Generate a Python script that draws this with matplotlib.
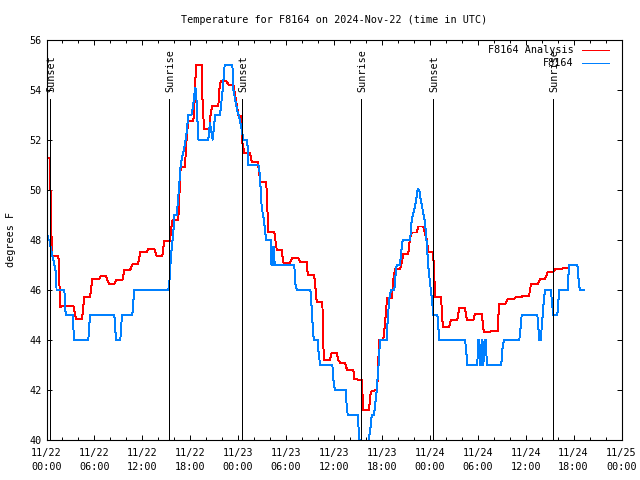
import matplotlib
matplotlib.use("Agg")
import matplotlib.pyplot as plt
import numpy as np

plt.rcParams['font.family'] = ['DejaVu Sans Mono']
FS = 7.3
LW = 0.7

# hours since 2024-11-22 00:00 UTC
analysis_h = [0.03, 0.40, 0.48, 0.60, 0.73, 1.48, 1.57, 1.69, 3.36, 3.69, 4.45, 4.73, 5.45, 5.74,
              6.61, 6.79, 7.45, 7.79, 8.49, 8.70, 9.49, 9.74, 10.46, 10.79, 11.46, 11.75, 12.58,
              12.71, 13.50, 13.80, 14.50, 14.75, 15.47, 15.59, 15.80, 16.50, 16.63, 16.72, 16.80,
              17.34, 17.47, 17.63, 17.76, 18.38, 18.51, 18.72, 19.43, 19.51, 19.72, 20.39, 20.56,
              20.76, 21.51, 21.64, 21.81, 22.56, 22.76, 23.39, 23.60, 23.82, 24.02, 24.32, 24.44,
              24.52, 24.77, 25.48, 25.61, 25.70, 26.45, 26.61, 26.77, 27.49, 27.61, 27.70, 27.77,
              28.53, 28.65, 28.83, 29.45, 29.65, 30.49, 30.78, 31.53, 31.74, 32.58, 32.71, 33.50,
              33.62, 33.83, 34.54, 34.66, 34.79, 35.50, 35.71, 36.34, 36.54, 36.75, 37.38, 37.63,
              38.42, 38.54, 39.47, 39.54, 39.67, 40.38, 40.60, 41.35, 41.47, 41.64, 42.17, 42.39,
              42.64, 43.23, 43.43, 43.64, 44.27, 44.55, 44.68, 45.30, 45.52, 45.73, 46.36, 46.56,
              47.18, 47.61, 47.81, 48.36, 48.52, 48.65, 49.40, 49.56, 49.69, 50.40, 50.65, 51.44,
              51.69, 52.40, 52.65, 53.44, 53.66, 54.50, 54.75, 55.54, 55.66, 56.50, 56.66, 57.41,
              57.75, 58.58, 58.75, 59.51, 59.63, 60.42, 60.67, 61.51, 61.80, 62.42, 62.76, 63.46,
              63.67, 64.51, 64.71, 65.43]
analysis_t = [51.27, 51.27, 50.27, 48.33, 47.36, 47.36, 46.83, 45.33, 45.36, 44.83, 44.83, 45.73,
              45.73, 46.43, 46.43, 46.55, 46.55, 46.25, 46.25, 46.39, 46.39, 46.79, 46.79, 47.04,
              47.04, 47.50, 47.50, 47.63, 47.63, 47.36, 47.36, 47.96, 47.96, 48.40, 48.80, 48.80,
              49.73, 50.40, 50.90, 50.90, 51.73, 52.40, 52.73, 52.73, 53.33, 55.00, 55.00, 53.73,
              52.43, 52.43, 53.07, 53.33, 53.33, 54.00, 54.33, 54.33, 54.20, 54.20, 53.80, 53.40,
              52.96, 52.96, 52.53, 51.87, 51.47, 51.47, 51.27, 51.10, 51.10, 50.73, 50.31, 50.31,
              49.80, 48.80, 48.31, 48.31, 48.00, 47.60, 47.60, 47.09, 47.09, 47.27, 47.27, 47.13,
              47.13, 46.60, 46.60, 46.27, 45.53, 45.53, 43.73, 43.20, 43.20, 43.47, 43.47, 43.20,
              43.09, 43.09, 42.80, 42.80, 42.43, 42.40, 42.00, 41.20, 41.20, 41.93, 42.00, 42.43,
              44.00, 44.00, 44.67, 45.67, 45.67, 46.40, 46.83, 46.83, 47.20, 47.44, 47.44, 48.07,
              48.29, 48.29, 48.53, 48.53, 48.00, 47.53, 47.53, 46.93, 45.73, 45.73, 44.80, 44.51,
              44.51, 44.80, 44.80, 45.27, 45.27, 44.80, 44.80, 45.04, 45.04, 44.31, 44.31, 44.36,
              44.36, 45.43, 45.43, 45.63, 45.63, 45.71, 45.71, 45.76, 45.76, 46.24, 46.24, 46.43,
              46.43, 46.71, 46.71, 46.83, 46.83, 46.87, 46.87]

station_h = [0.03, 0.10, 0.16, 0.38, 0.48, 0.73, 0.98, 1.23, 1.25, 2.23, 2.40, 3.28, 3.44, 5.23,
             5.45, 8.49, 8.70, 9.24, 9.45, 10.74, 10.99, 15.25, 15.38, 15.59, 15.88, 16.00, 16.30,
             16.38, 16.59, 16.80, 17.05, 17.34, 17.56, 17.76, 18.18, 18.38, 18.60, 18.72, 19.01,
             20.26, 20.47, 20.81, 21.01, 21.14, 21.73, 22.06, 22.31, 23.27, 23.39, 23.85, 24.10,
             24.44, 24.64, 25.07, 25.19, 25.27, 26.52, 26.65, 26.77, 26.95, 27.15, 27.36, 27.49,
             28.11, 28.16, 28.28, 28.40, 28.50, 28.56, 31.03, 31.12, 31.33, 33.03, 33.12, 33.28,
             33.46, 33.96, 34.04, 34.25, 35.79, 35.96, 36.13, 37.47, 37.59, 37.72, 38.97, 39.13,
             39.38, 39.88, 40.38, 40.59, 40.72, 41.01, 41.13, 41.35, 41.58, 41.76, 42.60, 42.72,
             42.93, 43.14, 43.55, 43.68, 43.85, 44.27, 44.39, 44.60, 45.52, 45.60, 45.73, 45.93,
             46.14, 46.36, 46.48, 46.68, 46.77, 47.18, 47.40, 47.61, 47.81, 48.02, 48.23, 48.36,
             48.43, 48.94, 49.06, 49.19, 52.40, 52.53, 52.69, 53.94, 54.06, 54.20, 54.30, 54.45,
             54.55, 54.70, 54.85, 55.00, 55.15, 56.94, 57.10, 57.28, 59.20, 59.38, 59.50, 61.46,
             61.58, 61.71, 61.88, 62.01, 62.21, 62.42, 63.17, 63.29, 63.46, 63.96, 64.08, 64.21,
             65.26, 65.43, 66.47, 66.60, 66.77, 67.27]
station_t = [48.76, 48.30, 48.00, 48.00, 47.76, 47.36, 47.00, 46.60, 46.00, 46.00, 45.00, 45.00,
             44.00, 44.00, 45.00, 45.00, 44.00, 44.00, 45.00, 45.00, 46.00, 46.00, 46.30, 47.40,
             48.30, 49.00, 49.00, 49.27, 50.07, 51.00, 51.40, 51.80, 52.33, 53.00, 53.00, 53.40,
             54.05, 54.00, 52.00, 52.00, 52.67, 52.00, 52.67, 53.00, 53.00, 54.00, 55.00, 55.00,
             54.00, 53.20, 52.93, 52.40, 52.00, 52.00, 51.70, 51.00, 51.00, 50.80, 50.27, 49.27,
             48.93, 48.40, 48.00, 48.00, 47.00, 47.70, 47.00, 47.70, 47.00, 47.00, 46.27, 46.00,
             46.00, 45.73, 44.80, 44.00, 44.00, 43.60, 43.00, 43.00, 42.27, 42.00, 42.00, 41.33,
             41.00, 41.00, 40.20, 39.50, 39.30, 40.07, 40.53, 41.00, 41.00, 41.33, 42.00, 43.00,
             44.00, 44.00, 44.80, 45.67, 46.00, 46.00, 46.53, 47.00, 47.00, 47.47, 48.00, 48.00,
             48.27, 48.80, 49.07, 49.33, 49.73, 50.03, 50.00, 49.73, 49.07, 48.67, 47.87, 46.93,
             46.27, 45.73, 45.27, 45.00, 45.00, 44.53, 44.00, 44.00, 43.67, 43.00, 43.00, 44.00,
             44.00, 43.00, 43.00, 44.00, 43.00, 44.00, 44.00, 43.00, 43.00, 43.67, 44.00, 44.00,
             44.53, 45.00, 45.00, 44.50, 44.00, 44.00, 44.50, 45.33, 46.00, 46.00, 45.47, 45.00,
             45.00, 45.50, 46.00, 46.00, 47.00, 47.00, 46.50, 46.00, 46.00]

sun_h = [0.47, 15.37, 24.52, 39.42, 48.44, 63.46]
sun_name = ['Sunset', 'Sunrise', 'Sunset', 'Sunrise', 'Sunset', 'Sunrise']

tick_h = list(range(0, 73, 6))
tick_lab = ['11/22\n00:00', '11/22\n06:00', '11/22\n12:00', '11/22\n18:00',
            '11/23\n00:00', '11/23\n06:00', '11/23\n12:00', '11/23\n18:00',
            '11/24\n00:00', '11/24\n06:00', '11/24\n12:00', '11/24\n18:00',
            '11/25\n00:00']

fig = plt.figure(figsize=(6.4, 4.8), dpi=100)
ax = fig.add_axes([0.0727, 0.0833, 0.8984, 0.8344])

ax.plot(analysis_h, analysis_t, color='#ff0000', lw=LW, antialiased=False)
ax.plot(station_h, station_t, color='#0080ff', lw=LW, antialiased=False)

#sunrise / sunset markers
for h, name in zip(sun_h, sun_name):
    ax.plot([h, h], [40, 53.64], color='black', lw=LW, antialiased=False)
    ax.text(h + 0.12, 53.92, name, rotation=90, ha='center', va='bottom', fontsize=FS)

ax.set_xlim(0, 72)
ax.set_ylim(40, 56)
ax.set_xticks(tick_h)
ax.set_xticklabels(tick_lab, fontsize=FS, linespacing=1.5)
ax.set_xticks(np.arange(0, 73, 2), minor=True)
ax.set_yticks(np.arange(40, 57, 2))
ax.set_yticklabels([str(v) for v in range(40, 57, 2)], fontsize=FS)
ax.tick_params(axis='x', pad=6)
ax.tick_params(direction='in', length=3.8, width=0.7, top=True, right=True)
ax.tick_params(which='minor', direction='in', length=2, width=0.7, top=True)
for s in ax.spines.values():
    s.set_linewidth(0.8)

ax.set_ylabel('degrees F', fontsize=FS, labelpad=10)
ax.set_title('Temperature for F8164 on 2024-Nov-22 (time in UTC)', fontsize=FS, pad=12)

#legend drawn by hand so the text is right aligned
ax.text(0.917, 0.975, 'F8164 Analysis', transform=ax.transAxes, ha='right', va='center', fontsize=FS)
ax.text(0.917, 0.9425, 'F8164', transform=ax.transAxes, ha='right', va='center', fontsize=FS)
ax.plot([0.931, 0.978], [0.975, 0.975], transform=ax.transAxes, color='#ff0000', lw=LW, antialiased=False)
ax.plot([0.931, 0.978], [0.9425, 0.9425], transform=ax.transAxes, color='#0080ff', lw=LW, antialiased=False)

fig.savefig('out.png', dpi=100)
